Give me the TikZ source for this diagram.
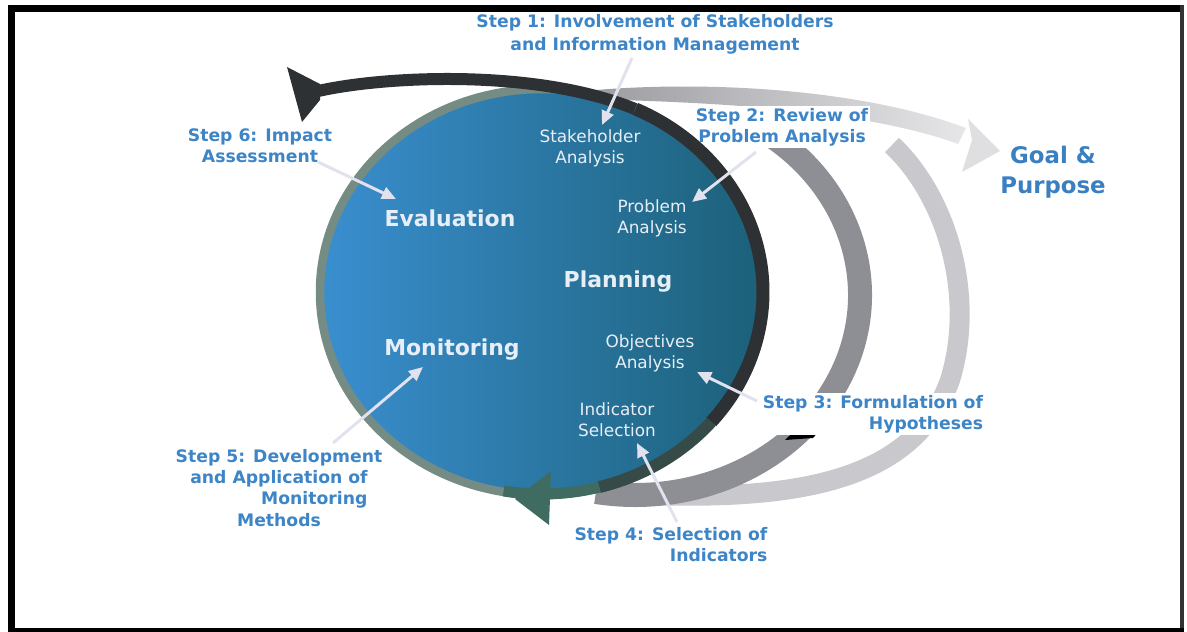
\documentclass[tikz,border=0pt]{standalone}
\usepackage{fontspec}
\setmainfont{DejaVu Sans}
\usetikzlibrary{arrows.meta,positioning,calc}

\definecolor{stepblue}{HTML}{3D85C6}
\definecolor{goalblue}{HTML}{3A7FC0}
\definecolor{discleft}{HTML}{3A8FD0}
\definecolor{discright}{HTML}{1C6078}
\definecolor{rimdark}{HTML}{2E3133}
\definecolor{rimgreen}{HTML}{748C84}
\definecolor{rimteal}{HTML}{3F6B60}
\definecolor{arcmid}{HTML}{8E8F94}
\definecolor{arclight}{HTML}{C9C9CD}
\definecolor{pointcol}{HTML}{E2E2EE}
\definecolor{labelwhite}{HTML}{E8EEF6}

\begin{document}
\begin{tikzpicture}[x=0.02cm, y=-0.02cm,
  steplabel/.style={font=\fontsize{9.8}{12}\selectfont\bfseries, text=stepblue,
    align=center, inner sep=1pt},
  phase/.style={font=\fontsize{12.5}{15}\selectfont\bfseries, text=labelwhite},
  task/.style={font=\fontsize{9.6}{12}\selectfont, text=labelwhite, align=center},
  pointer/.style={draw=pointcol, line width=1.7pt, -{Triangle[length=8pt,width=7pt]}}
]
  \useasboundingbox (0,0) rectangle (1187,632);

  % frame
  \fill (8,5) rectangle (1184,12);
  \fill (8,5) rectangle (15,632);
  \fill[black!80] (1180,5) rectangle (1184,632);
  \fill (8,628) rectangle (1184,632);

  % outer grey cycle arcs
  \draw[arclight, line width=0.4cm] (892,145) .. controls (950,200) and (975,300) .. (950,380)
    .. controls (915,480) and (800,500) .. (650,495);
  \draw[arcmid, line width=0.48cm] (635,295) ++(-60:225 and 200)
    arc[start angle=-60, end angle=100, x radius=225, y radius=200];
  \fill[black] (785,440) -- (803,423) -- (830,419) -- (813,438) -- cycle;

  % band towards goal
  \shade[left color=arcmid!90, right color=arclight!45] (585,91) .. controls (700,80) and (860,88) .. (966,128)
    -- (958,144) .. controls (860,108) and (700,102) .. (585,99) -- cycle;
  \fill[arclight!60] (1000,151) -- (968,119) -- (972,140) -- (962,172) -- cycle;
  \node[font=\fontsize{13}{17}\selectfont\bfseries, text=goalblue, align=center] (goal)
    at (1053,172) {Goal \&\\Purpose};

  % step labels
  \node[steplabel, font=\fontsize{9.8}{13}\selectfont\bfseries] (step1) at (655,34)
    {Step 1: Involvement of Stakeholders\\and Information Management};
  \node[steplabel, fill=white] (step2) at (782,127) {Step 2: Review of\\Problem Analysis};
  \node[steplabel, fill=white, align=right] (step3) at (873,414)
    {Step 3: Formulation of\\Hypotheses};
  \node[steplabel, align=right] (step4) at (671,545) {Step 4: Selection of\\Indicators};
  \node[steplabel] (step5) at (279,488)
    {Step 5: Development\\and Application of\\\hspace*{4.1em}Monitoring\\Methods};
  \node[steplabel] (step6) at (260,146) {Step 6: Impact\\Assessment};

  % the disc
  \shade[left color=discleft, middle color=discleft!85!discright, right color=discright]
    (542,292) ellipse [x radius=224, y radius=205];
  \draw[rimgreen, line width=0.17cm] (542,292) ellipse [x radius=222, y radius=203];
  \draw[rimdark, line width=0.26cm] (542,292) ++(-65:221 and 202)
    arc[start angle=-65, end angle=40, x radius=221, y radius=202];
  \draw[rimdark!55!rimteal, line width=0.24cm] (542,292) ++(40:221 and 202)
    arc[start angle=40, end angle=75, x radius=221, y radius=202];
  \draw[rimteal, line width=0.22cm] (542,292) ++(75:221 and 202)
    arc[start angle=75, end angle=100, x radius=221, y radius=202];

  % black return arrow over the top
  \draw[rimdark, line width=0.24cm] (314,92) .. controls (380,76) and (535,68) .. (635,109);
  \fill[rimdark] (287,67) -- (320,84) -- (320,100) -- (302,122) -- cycle;
  % green arrow head at the bottom
  \fill[rimteal] (551,471) -- (549,525) -- (515,499) -- cycle;

  % labels inside the disc
  \node[task] (stake) at (590,148) {Stakeholder\\Analysis};
  \node[task] (probl) at (652,218) {Problem\\Analysis};
  \node[phase] (evalu) at (450,218) {Evaluation};
  \node[phase] (plan) at (618,282) {Planning};
  \node[phase] (monit) at (452,350) {Monitoring};
  \node[task] (object) at (650,353) {Objectives\\Analysis};
  \node[task] (indic) at (617,420) {Indicator\\Selection};

  % pointers from the steps
  \coordinate (from1) at (632,58);  \coordinate (to1) at (602,125);
  \coordinate (from2) at (756,152); \coordinate (to2) at (692,202);
  \coordinate (from3) at (757,401); \coordinate (to3) at (697,372);
  \coordinate (from4) at (677,522); \coordinate (to4) at (637,443);
  \coordinate (from5) at (333,443); \coordinate (to5) at (423,367);
  \coordinate (from6) at (318,162); \coordinate (to6) at (396,199);
  \foreach \i in {1,...,6}
    \draw[pointer] (from\i) -- (to\i);
\end{tikzpicture}
\end{document}
